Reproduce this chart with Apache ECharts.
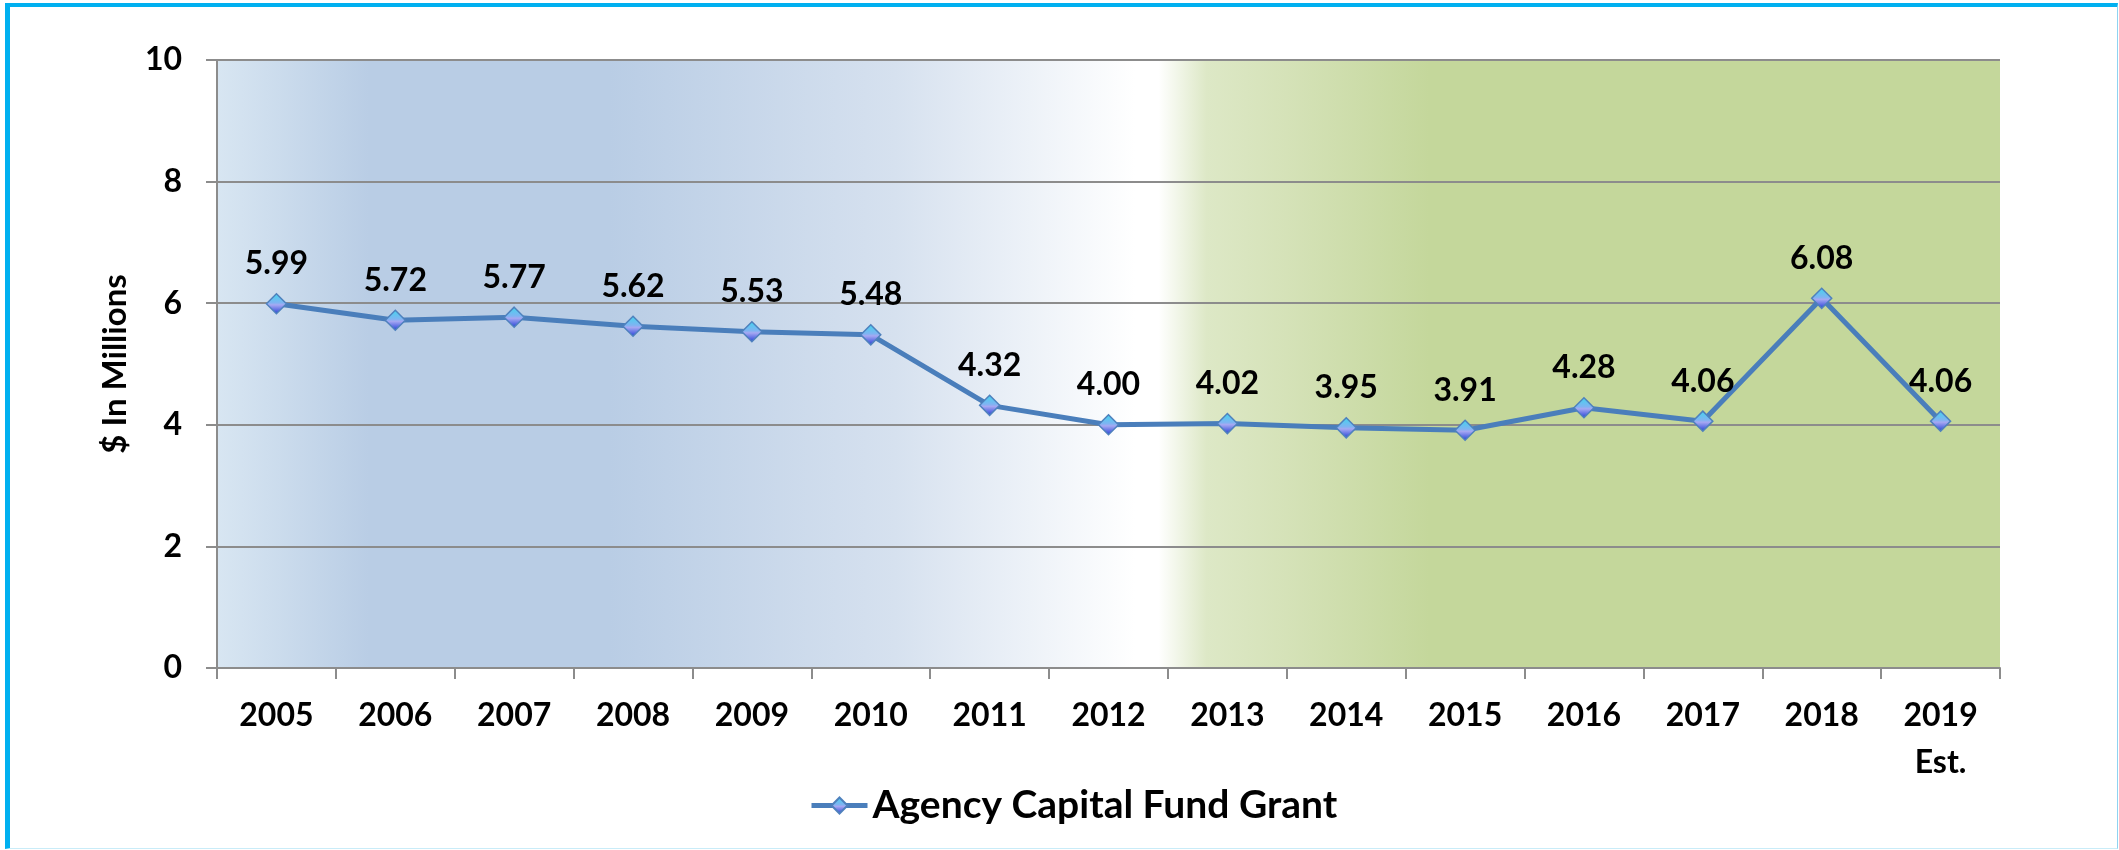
<!DOCTYPE html>
<html>
<head>
<meta charset="utf-8">
<script src="https://cdn.jsdelivr.net/npm/echarts@6/dist/echarts.min.js"></script>
<style>
  html, body { margin: 0; padding: 0; background: #ffffff; }
  #chart { position: absolute; left: 0; top: 0; width: 2119px; height: 850px; }
  .frame {
    position: absolute; left: 5px; top: 3px; width: 2113px; height: 846px;
    box-sizing: border-box; pointer-events: none;
    border-top: 4px solid #00b0f0; border-left: 5px solid #00b0f0;
    border-right: 1px solid #8fd3f2; border-bottom: 1px solid #c9ecf8;
  }
</style>
</head>
<body>
<div id="chart"></div>
<div class="frame"></div>
<script>
// chart data
var years = ['2005', '2006', '2007', '2008', '2009', '2010', '2011', '2012',
  '2013', '2014', '2015', '2016', '2017', '2018', '2019\nEst.']
var grantValues = [5.99, 5.72, 5.77, 5.62, 5.53, 5.48, 4.32, 4.00,
  4.02, 3.95, 3.91, 4.28, 4.06, 6.08, 4.06]
var yTicks = [0, 2, 4, 6, 8, 10]
var seriesName = 'Agency Capital Fund Grant'

var font = 'Lato, "Open Sans", sans-serif'
var gray = '#8c8c8c'
var lineBlue = '#4a7ebb'

var markerFill = {
  type: 'linear', x: 0, y: 0, x2: 0, y2: 1,
  colorStops: [
    { offset: 0, color: '#3fd6ee' },
    { offset: 0.45, color: '#7fb4f2' },
    { offset: 0.55, color: '#a6a8f2' },
    { offset: 1, color: '#1d3bd6' }
  ]
}

var chart = echarts.init(document.getElementById('chart'))
chart.setOption({
  animation: false,
  textStyle: { fontFamily: font },
  grid: {
    left: 217, right: 119, top: 60, bottom: 182,
    show: true,
    borderWidth: 0,
    backgroundColor: {
      type: 'linear', x: 0, y: 0, x2: 1, y2: 0,
      colorStops: [
        { offset: 0, color: '#d8e6f2' },
        { offset: 0.085, color: '#b9cde5' },
        { offset: 0.22, color: '#b9cde5' },
        { offset: 0.38, color: '#d6e1ef' },
        { offset: 0.515, color: '#ffffff' },
        { offset: 0.528, color: '#ffffff' },
        { offset: 0.555, color: '#dde8c6' },
        { offset: 0.6, color: '#d5e2b8' },
        { offset: 0.68, color: '#c4d79b' },
        { offset: 1, color: '#c4d79b' }
      ]
    }
  },
  legend: {
    left: 804, top: 781,
    itemWidth: 56, itemHeight: 20,
    lineStyle: { width: 5, color: lineBlue },
    textStyle: { fontSize: 39, fontWeight: 'bold', color: '#000', fontFamily: font },
    data: [seriesName]
  },
  xAxis: {
    type: 'category',
    data: years,
    boundaryGap: true,
    axisLine: { lineStyle: { color: gray, width: 2 } },
    axisTick: { show: true, length: 11, lineStyle: { color: gray, width: 2 } },
    axisLabel: {
      interval: 0, margin: 24, lineHeight: 47,
      fontSize: 32, fontWeight: 'bold', color: '#000', fontFamily: font
    }
  },
  yAxis: {
    type: 'value',
    min: yTicks[0], max: yTicks[yTicks.length - 1], interval: 2,
    name: '$ In Millions',
    nameLocation: 'middle',
    nameRotate: 90,
    nameGap: 85,
    nameTextStyle: { fontSize: 33, fontWeight: 'bold', color: '#000', fontFamily: font },
    axisLine: { show: true, lineStyle: { color: gray, width: 2 } },
    axisTick: { show: true, length: 11, lineStyle: { color: gray, width: 2 } },
    splitLine: { lineStyle: { color: gray, width: 2 } },
    axisLabel: {
      margin: 35, fontSize: 32, fontWeight: 'bold', color: '#000', fontFamily: font
    }
  },
  series: [{
    name: seriesName,
    type: 'line',
    data: grantValues,
    symbol: 'diamond',
    symbolSize: 20,
    lineStyle: { color: lineBlue, width: 5 },
    itemStyle: {
      borderColor: '#4f81bd',
      borderWidth: 1.5,
      color: markerFill
    },
    label: {
      show: true,
      position: 'top',
      distance: 13,
      fontSize: 32,
      fontWeight: 'bold',
      color: '#000',
      fontFamily: font,
      formatter: function (p) { return p.value.toFixed(2) }
    }
  }]
})
</script>
</body>
</html>
